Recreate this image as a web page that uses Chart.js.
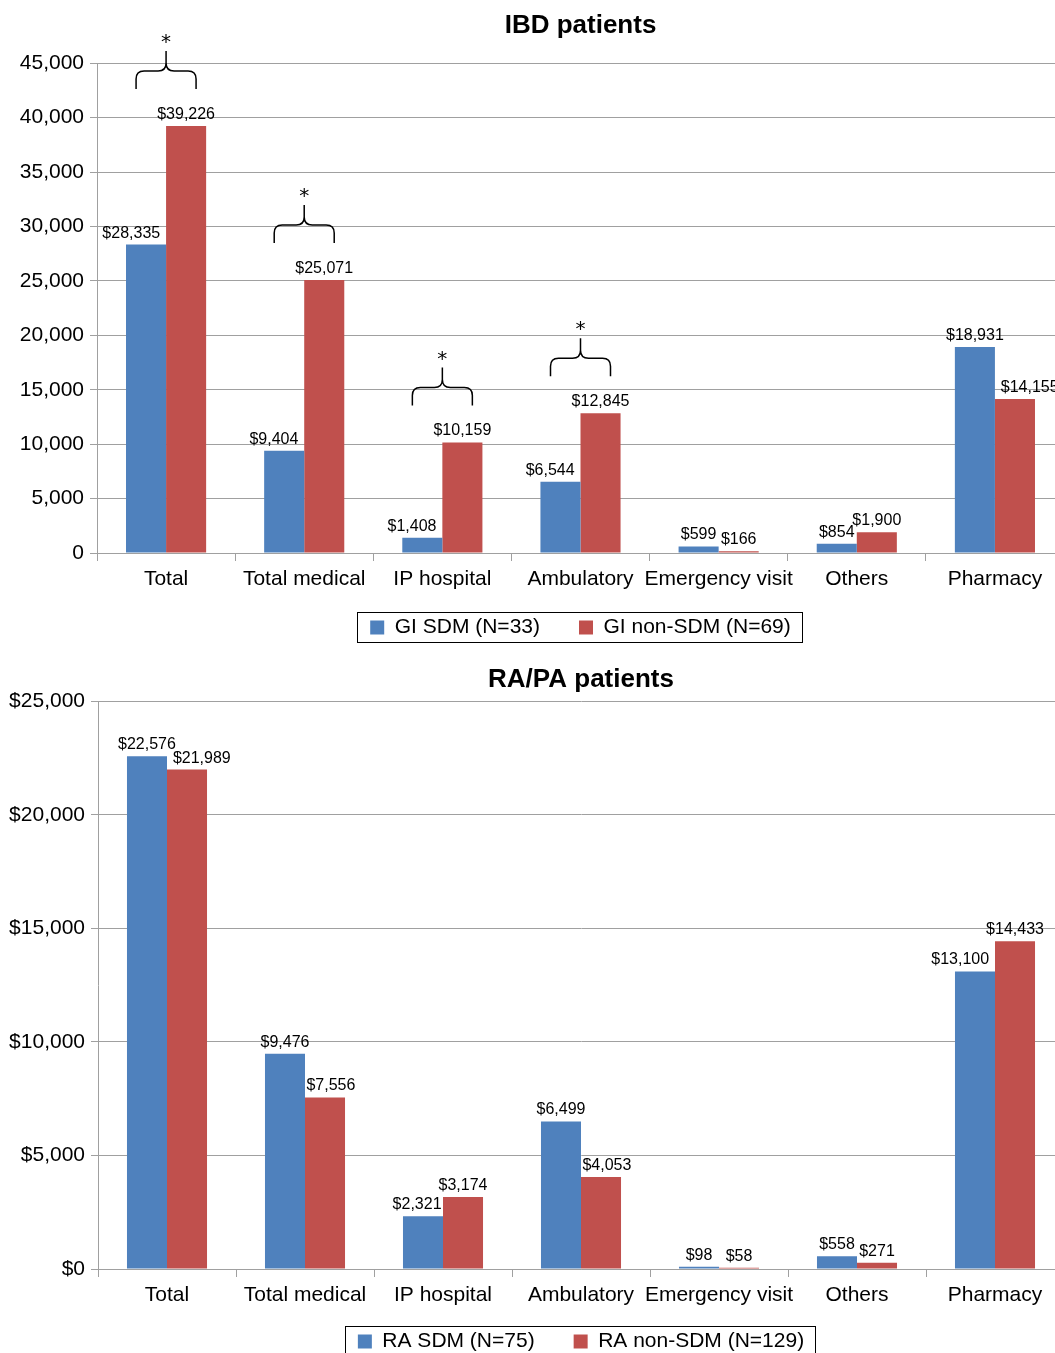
<!DOCTYPE html>
<html>
<head>
<meta charset="utf-8">
<script src="https://cdn.jsdelivr.net/npm/chart.js@4.4.0/dist/chart.umd.min.js"></script>
<style>
  html, body { margin: 0; padding: 0; background: #fff; overflow: hidden; }
  #wrap { position: relative; width: 1055px; height: 1353px; overflow: hidden; }
  .box { position: absolute; left: 0; }
</style>
</head>
<body>
<div id="wrap">
  <div class="box" style="top:0"><canvas id="ibd" width="1064" height="650"></canvas></div>
  <div class="box" style="top:650px"><canvas id="ra" width="1064" height="720"></canvas></div>
</div>
<script>
const BLUE = '#4F81BD';
const RED = '#C0504D';
const GRID = '#a0a0a0';
const FONT = "'Liberation Sans', Arial, sans-serif";

const categories = ['Total', 'Total medical', 'IP hospital', 'Ambulatory', 'Emergency visit', 'Others', 'Pharmacy'];

// IBD patients
const ibdSdm = [28335, 9404, 1408, 6544, 599, 854, 18931];
const ibdNonSdm = [39226, 25071, 10159, 12845, 166, 1900, 14155];
const ibdSignificant = [true, true, true, true, false, false, false];
const ibdTicks = [0, 5000, 10000, 15000, 20000, 25000, 30000, 35000, 40000, 45000];

// RA/PA patients
const raSdm = [22576, 9476, 2321, 6499, 98, 558, 13100];
const raNonSdm = [21989, 7556, 3174, 4053, 58, 271, 14433];
const raSignificant = [false, false, false, false, false, false, false];
const raTicks = [0, 5000, 10000, 15000, 20000, 25000];

Chart.defaults.font.family = FONT;
Chart.defaults.color = '#000';

const money = (v) => '$' + v.toLocaleString('en-US');

// value labels above the bars; the lower label of a pair moves outward if they overlap
const valueLabels = {
  id: 'valueLabels',
  afterDatasetsDraw(chart) {
    const ctx = chart.ctx;
    const a = chart.getDatasetMeta(0).data;
    const b = chart.getDatasetMeta(1).data;
    ctx.save();
    ctx.font = '16px ' + FONT;
    ctx.fillStyle = '#000';
    ctx.textAlign = 'center';
    ctx.textBaseline = 'alphabetic';
    a.forEach((barA, i) => {
      const barB = b[i];
      const tA = money(chart.data.datasets[0].data[i]);
      const tB = money(chart.data.datasets[1].data[i]);
      const wA = ctx.measureText(tA).width;
      const wB = ctx.measureText(tB).width;
      let xA = barA.x;
      let xB = barB.x;
      const yA = barA.y - 7;
      const yB = barB.y - 7;
      const overlap = (wA + wB) / 2 - (xB - xA) - 3;
      if (overlap > 0) {
        if (yB > yA) xB += overlap; else xA -= overlap;
      }
      ctx.fillText(tA, xA, yA);
      ctx.fillText(tB, xB, yB);
    });
    ctx.restore();
  }
};

// curly brackets with an asterisk over significant pairs
const braces = {
  id: 'braces',
  afterDatasetsDraw(chart, args, opts) {
    const flags = opts.flags || [];
    const ctx = chart.ctx;
    const xs = chart.scales.x;
    const a = chart.getDatasetMeta(0).data;
    const b = chart.getDatasetMeta(1).data;
    ctx.save();
    ctx.strokeStyle = '#000';
    ctx.lineWidth = 1.5;
    ctx.fillStyle = '#000';
    ctx.font = "20px 'DejaVu Sans', sans-serif";
    ctx.textAlign = 'center';
    ctx.textBaseline = 'middle';
    flags.forEach((on, i) => {
      if (!on) return;
      const cx = xs.getPixelForValue(i);
      const base = Math.min(a[i].y, b[i].y) - 37;
      const half = 30;
      const r = 8;
      const mid = base - 18;
      ctx.beginPath();
      ctx.moveTo(cx - half, base);
      ctx.lineTo(cx - half, mid + r);
      ctx.quadraticCurveTo(cx - half, mid, cx - half + r, mid);
      ctx.lineTo(cx - r, mid);
      ctx.quadraticCurveTo(cx, mid, cx, mid - r);
      ctx.quadraticCurveTo(cx, mid, cx + r, mid);
      ctx.lineTo(cx + half - r, mid);
      ctx.quadraticCurveTo(cx + half, mid, cx + half, mid + r);
      ctx.lineTo(cx + half, base);
      ctx.moveTo(cx, mid - r);
      ctx.lineTo(cx, mid - 20);
      ctx.stroke();
      ctx.fillText('*', cx, mid - 28);
    });
    ctx.restore();
  }
};

// black frame around the legend
const legendFrame = {
  id: 'legendFrame',
  afterDraw(chart) {
    const boxes = chart.legend.legendHitBoxes;
    if (!boxes || !boxes.length) return;
    const first = boxes[0];
    const last = boxes[boxes.length - 1];
    const ctx = chart.ctx;
    const x0 = Math.round(first.left - 13) + 0.5;
    const y0 = Math.round(first.top - 5) + 0.5;
    const x1 = Math.round(last.left + last.width + 11) + 0.5;
    const y1 = Math.round(first.top + first.height + 4) + 0.5;
    ctx.save();
    ctx.strokeStyle = '#000';
    ctx.lineWidth = 1;
    ctx.strokeRect(x0, y0, x1 - x0, y1 - y0);
    ctx.restore();
  }
};

function makeChart(id, cfg) {
  return new Chart(document.getElementById(id), {
    type: 'bar',
    data: {
      labels: categories,
      datasets: [
        { label: cfg.names[0], data: cfg.sdm, backgroundColor: BLUE, categoryPercentage: 0.58, barPercentage: 1 },
        { label: cfg.names[1], data: cfg.nonSdm, backgroundColor: RED, categoryPercentage: 0.58, barPercentage: 1 },
      ],
    },
    options: {
      responsive: false,
      animation: false,
      layout: { padding: { left: 0, right: 0, top: 0, bottom: cfg.padBottom } },
      scales: {
        x: {
          grid: { drawOnChartArea: false, color: GRID, tickLength: 8 },
          border: { color: GRID },
          ticks: { font: { size: 21 }, color: '#000', padding: 6, maxRotation: 0, autoSkip: false },
          afterFit: (s) => {
            s.height = cfg.xHeight;
            // the labels hang below the shortened axis box, so do not clip them
            s._computeLabelArea = () => null;
          },
        },
        y: {
          min: 0,
          max: cfg.ticks[cfg.ticks.length - 1],
          grid: { color: GRID, tickLength: 7 },
          border: { color: GRID },
          ticks: { font: { size: 21 }, color: '#000', padding: 6, callback: cfg.fmt },
          afterBuildTicks: (s) => { s.ticks = cfg.ticks.map((v) => ({ value: v })); },
          afterFit: (s) => { s.width = cfg.yWidth; },
        },
      },
      plugins: {
        title: {
          display: true,
          text: cfg.title,
          fullSize: false,
          color: '#000',
          font: { size: 26, weight: 'bold' },
          padding: cfg.titlePad,
        },
        legend: {
          position: 'bottom',
          fullSize: false,
          labels: { boxWidth: 14, boxHeight: 14, padding: 39, color: '#000', font: { size: 21 } },
        },
        tooltip: { enabled: false },
        braces: { flags: cfg.flags },
      },
    },
    plugins: [valueLabels, braces, legendFrame],
  });
}

makeChart('ibd', {
  title: 'IBD patients',
  names: ['GI SDM (N=33)', 'GI non-SDM (N=69)'],
  sdm: ibdSdm,
  nonSdm: ibdNonSdm,
  flags: ibdSignificant,
  ticks: ibdTicks,
  fmt: (v) => v.toLocaleString('en-US'),
  yWidth: 97,
  xHeight: 25,
  padBottom: 2,
  titlePad: { top: 10, bottom: 22 },
});

makeChart('ra', {
  title: 'RA/PA patients',
  names: ['RA SDM (N=75)', 'RA non-SDM (N=129)'],
  sdm: raSdm,
  nonSdm: raNonSdm,
  flags: raSignificant,
  ticks: raTicks,
  fmt: (v) => '$' + v.toLocaleString('en-US'),
  yWidth: 98,
  xHeight: 23,
  padBottom: 8,
  titlePad: { top: 14, bottom: 6 },
});
</script>
</body>
</html>
